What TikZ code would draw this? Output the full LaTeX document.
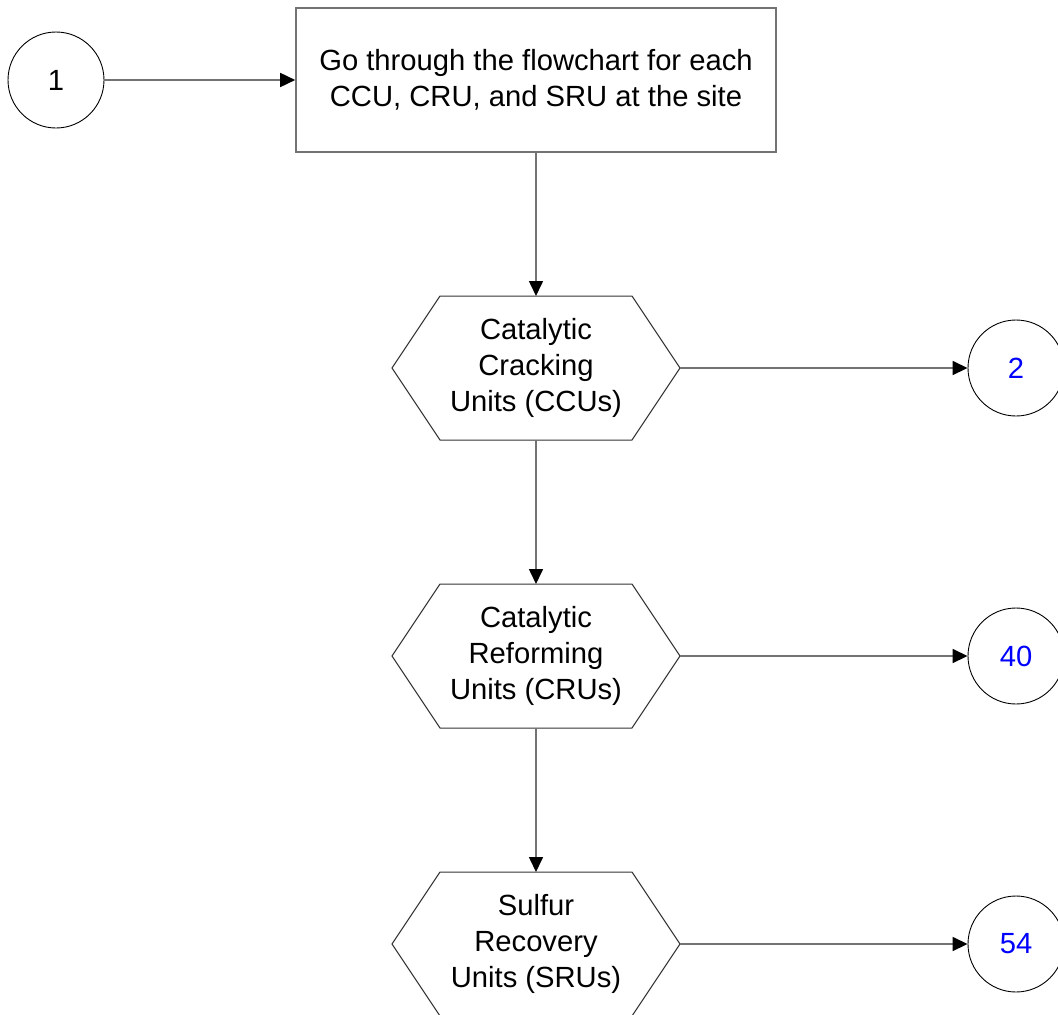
\documentclass[tikz,border=0pt]{standalone}
\usepackage{fontspec}
\setmainfont{Liberation Sans}
\usetikzlibrary{arrows.meta,calc}
\begin{document}
\begin{tikzpicture}[x=1pt,y=-1pt,
  txt/.style={align=center,font=\fontsize{29.2}{36}\selectfont},
  conn/.style={circle,draw,line width=0.9pt,minimum size=96pt,inner sep=0pt,txt},
  flow/.style={draw=black!55,line width=1.6pt,-{Triangle[length=15pt,width=14pt,color=black]}},
  hexline/.style={draw=black!80,line width=1pt}]
\useasboundingbox (0,0) rectangle (1058,1015);
\node[conn] (c1) at (56,80) {1};
\node[draw=black!55,line width=1.6pt,minimum width=480pt,minimum height=144pt,txt] (go) at (536,80)
  {Go through the flowchart for each\\CCU, CRU, and SRU at the site};
\foreach \n/\y in {ccu/368,cru/656,sru/944} {
  \coordinate (\n) at (536,\y);
  \coordinate (\n-n) at ($(\n)+(0,-72)$);
  \coordinate (\n-s) at ($(\n)+(0,72)$);
  \coordinate (\n-e) at ($(\n)+(144,0)$);
  \draw[hexline] ($(\n)+(-144,0)$) -- ($(\n)+(-96,-72)$) -- ($(\n)+(96,-72)$) -- (\n-e)
    -- ($(\n)+(96,72)$) -- ($(\n)+(-96,72)$) -- cycle;
}
\node[txt] at (ccu) {Catalytic\\Cracking\\Units (CCUs)};
\node[txt] at (cru) {Catalytic\\Reforming\\Units (CRUs)};
\node[txt] at (sru) {Sulfur\\Recovery\\Units (SRUs)};
\node[conn,text=blue] (c2) at (1016,368) {2};
\node[conn,text=blue] (c40) at (1016,656) {40};
\node[conn,text=blue] (c54) at (1016,944) {54};
\draw[flow] (c1) -- (go);
\draw[flow] (go) -- (ccu-n);
\draw[flow] (ccu-s) -- (cru-n);
\draw[flow] (cru-s) -- (sru-n);
\draw[flow] (ccu-e) -- (c2);
\draw[flow] (cru-e) -- (c40);
\draw[flow] (sru-e) -- (c54);
\end{tikzpicture}
\end{document}
